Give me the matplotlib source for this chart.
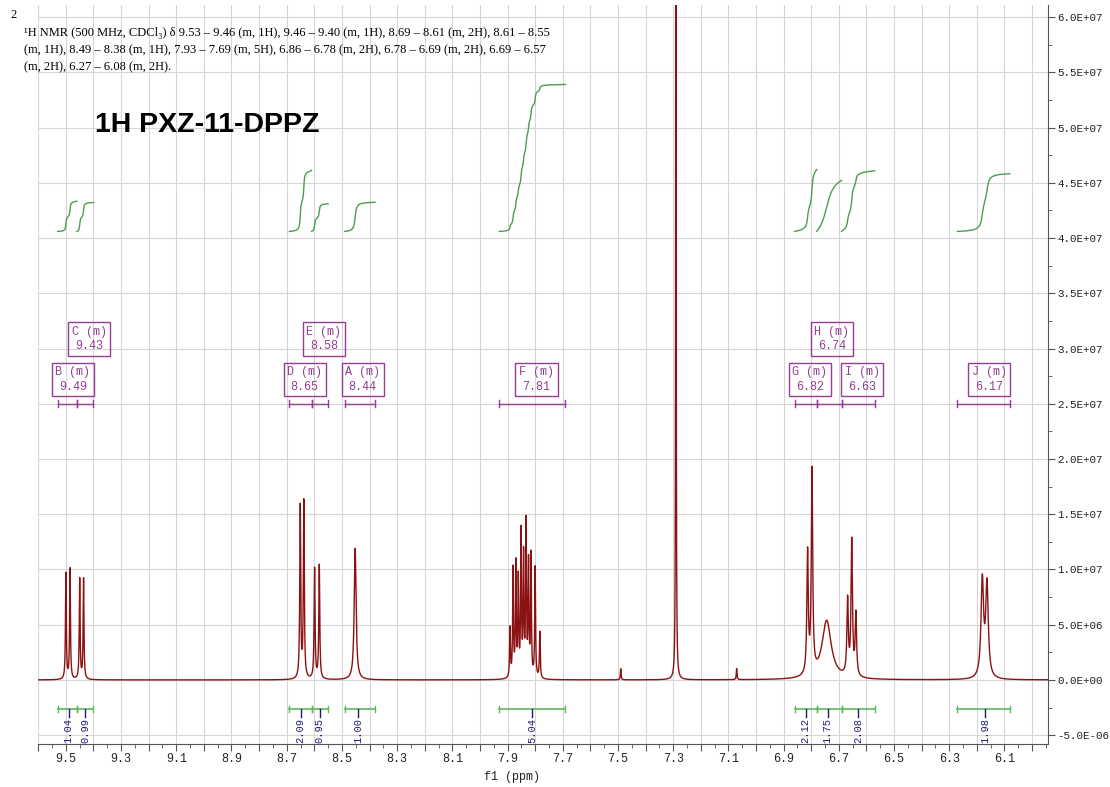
import matplotlib
matplotlib.use('Agg')
import matplotlib.pyplot as plt
import numpy as np
from matplotlib.ticker import MultipleLocator, FuncFormatter, FixedLocator, FixedFormatter

# resolved lines: shift (ppm), height (x1e6), FWHM (ppm)
line_ppm = [9.500, 9.485, 9.450, 9.436,
            8.651, 8.638, 8.599, 8.582,
            8.452,
            7.891, 7.880, 7.870, 7.861, 7.851, 7.842, 7.833, 7.824, 7.815, 7.800, 7.783,
            7.490, 7.290, 7.070,
            6.813, 6.797, 6.744, 6.668, 6.653, 6.638,
            6.180, 6.163]
line_height = [9.6, 10.0, 9.1, 9.1,
               15.6, 16.0, 10.0, 10.3,
               11.9,
               4.5, 9.8, 10.2, 8.8, 13.0, 10.8, 13.8, 10.2, 11.0, 10.0, 4.2,
               1.0, 90.0, 1.0,
               11.0, 18.3, 5.3, 6.8, 12.2, 5.6,
               8.8, 8.4]
line_fwhm = [0.0035, 0.0035, 0.0035, 0.0035,
             0.004, 0.004, 0.004, 0.004,
             0.008,
             0.0035, 0.0035, 0.0035, 0.0035, 0.0035, 0.0035, 0.0035, 0.0035, 0.0035, 0.0035, 0.0035,
             0.003, 0.002, 0.003,
             0.006, 0.006, 0.040, 0.006, 0.006, 0.006,
             0.011, 0.011]

# multiplet report
mult_name = ['B', 'C', 'D', 'E', 'A', 'F', 'G', 'H', 'I', 'J']
mult_shift = [9.49, 9.43, 8.65, 8.58, 8.44, 7.81, 6.82, 6.74, 6.63, 6.17]
mult_hi = [9.53, 9.46, 8.69, 8.61, 8.49, 7.93, 6.86, 6.78, 6.69, 6.27]
mult_lo = [9.46, 9.40, 8.61, 8.55, 8.38, 7.69, 6.78, 6.69, 6.57, 6.08]
mult_integral = [1.04, 0.99, 2.09, 0.95, 1.00, 5.04, 2.12, 1.75, 2.08, 1.98]

ytick_vals = [-5e6, 0, 5e6, 1e7, 1.5e7, 2e7, 2.5e7, 3e7, 3.5e7, 4e7, 4.5e7, 5e7, 5.5e7, 6e7]
ytick_labels = ['-5.0E-06', '0.0E+00', '5.0E+06', '1.0E+07', '1.5E+07', '2.0E+07', '2.5E+07',
                '3.0E+07', '3.5E+07', '4.0E+07', '4.5E+07', '5.0E+07', '5.5E+07', '6.0E+07']

header = ["\u00b9H NMR (500 MHz, CDCl\u2083) \u03b4 9.53 \u2013 9.46 (m, 1H), 9.46 \u2013 9.40 (m, 1H), 8.69 \u2013 8.61 (m, 2H), 8.61 \u2013 8.55",
          "(m, 1H), 8.49 \u2013 8.38 (m, 1H), 7.93 \u2013 7.69 (m, 5H), 6.86 \u2013 6.78 (m, 2H), 6.78 \u2013 6.69 (m, 2H), 6.69 \u2013 6.57",
          "(m, 2H), 6.27 \u2013 6.08 (m, 2H)."]

# layout
box_row = [0, 1, 0, 1, 0, 0, 0, 1, 0, 0]
purple = '#953c95'
green = '#4a9e4a'
navy = '#1c1c78'
red = '#8b1212'
mono = 'Liberation Mono'

XL, XR = 9.601, 5.942
x = np.linspace(XL, XR, 40000)
y = np.zeros_like(x)
for p, h, w in zip(line_ppm, line_height, line_fwhm):
    y += h * 1e6 / (1 + ((x - p) / (w / 2)) ** 2)

fig = plt.figure(figsize=(11.1, 7.87), dpi=100)
ax = fig.add_axes([38 / 1110, 43 / 787, 1010 / 1110, 739 / 787])
ax.set_xlim(XL, XR)
ax.set_ylim(-5.8e6, 61.1e6)

ax.plot(x, y, color=red, lw=1.0, zorder=3)

# integral curves
base = 40.6e6
unit = 2.64e6
for hi, lo, val in zip(mult_hi, mult_lo, mult_integral):
    m = (x <= hi) & (x >= lo)
    c = np.cumsum(y[m])
    c = c / c[-1]
    ax.plot(x[m], base + c * val * unit, color=green, lw=1.0, zorder=3)

# integral bars at bottom
ybar = -2.63e6
for hi, lo, s, val in zip(mult_hi, mult_lo, mult_shift, mult_integral):
    ax.plot([hi, lo], [ybar, ybar], color='#5cb85c', lw=1.2, zorder=3)
    for e in (hi, lo):
        ax.plot([e, e], [ybar - 0.3e6, ybar + 0.3e6], color='#5cb85c', lw=1.0, zorder=3)
    ax.plot([s, s], [ybar, ybar - 0.7e6], color=navy, lw=1.0, zorder=3)
    ax.text(s, ybar - 0.8e6, f'{val:.2f}', rotation=90, ha='center', va='top',
            family=mono, fontsize=7.5, color=navy, zorder=4)

# multiplet boxes and bars
ymb = 25.0e6
for name, s, hi, lo, row in zip(mult_name, mult_shift, mult_hi, mult_lo, box_row):
    ax.plot([hi, lo], [ymb, ymb], color=purple, lw=1.0, zorder=3)
    for e in (hi, lo):
        ax.plot([e, e], [ymb - 0.3e6, ymb + 0.3e6], color=purple, lw=1.0, zorder=3)
    yb = 27.2e6 if row == 0 else 30.85e6
    ax.text(s - 0.015, yb, f'{name} (m)\n{s:.2f}', ha='center', va='center',
            family=mono, fontsize=8.5, color=purple, linespacing=1.25, zorder=4,
            bbox=dict(boxstyle='square,pad=0.3', fc='none', ec=purple, lw=1.0))

# axes styling
for sp in ('top', 'left'):
    ax.spines[sp].set_visible(False)
ax.spines['bottom'].set_color('#555555')
ax.spines['right'].set_color('#555555')

ax.xaxis.set_major_locator(MultipleLocator(0.1))
ax.xaxis.set_minor_locator(MultipleLocator(0.05))
ax.xaxis.set_major_formatter(FuncFormatter(
    lambda v, pos: f'{v:.1f}' if int(round(v * 10)) % 2 == 1 else ''))
ax.yaxis.tick_right()
ax.yaxis.set_major_locator(FixedLocator(ytick_vals))
ax.yaxis.set_major_formatter(FixedFormatter(ytick_labels))
ax.yaxis.set_minor_locator(MultipleLocator(2.5e6))
ax.tick_params(axis='both', which='major', direction='out', length=5, color='#555555',
               labelcolor='#222222')
ax.tick_params(axis='x', which='major', labelsize=8.5, pad=1.5)
ax.tick_params(axis='y', which='major', labelsize=7.8, pad=1.5)
ax.tick_params(axis='both', which='minor', direction='out', length=3, color='#555555')
for lab in ax.get_xticklabels() + ax.get_yticklabels():
    lab.set_family(mono)
ax.grid(True, which='major', color='#d6d6d6', lw=0.8)
ax.set_axisbelow(True)

ax.text(0.469, -0.045, 'f1 (ppm)', transform=ax.transAxes, ha='center', va='center',
        family=mono, fontsize=8.5, color='#222222')

# header text
fig.text(10 / 1110, 1 - 15 / 787, '2', family=['Liberation Serif', 'DejaVu Serif'],
         fontsize=9, va='center')
for i, line in enumerate(header):
    fig.text(24 / 1110, 1 - (33 + 17 * i) / 787, line,
             family=['Liberation Serif', 'DejaVu Serif'], fontsize=9, va='center')
fig.text(95 / 1110, 1 - 125 / 787, '1H PXZ-11-DPPZ', family='Liberation Sans',
         weight='bold', fontsize=20.5, va='center')

fig.savefig('out.png', dpi=100)
